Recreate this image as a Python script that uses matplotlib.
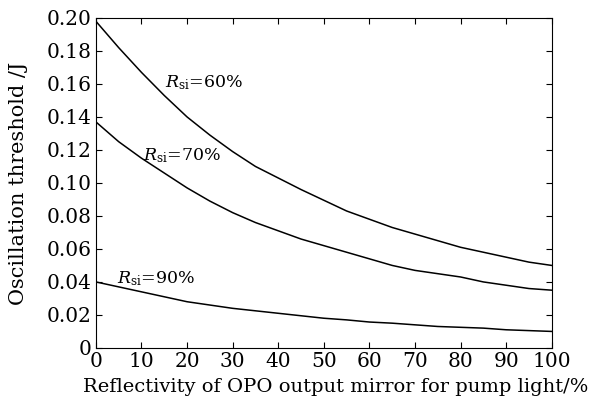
import matplotlib
matplotlib.use('Agg')
import matplotlib.pyplot as plt
import numpy as np

plt.rcParams['font.family'] = 'DejaVu Serif'
plt.rcParams['mathtext.fontset'] = 'dejavuserif'

# reflectivity of output mirror (%)
refl = [0, 5, 10, 15, 20, 25, 30, 35, 40, 45, 50, 55, 60, 65, 70, 75, 80, 85, 90, 95, 100]
# oscillation threshold (J) for each Rsi
th_60 = [0.198, 0.182, 0.167, 0.153, 0.140, 0.129, 0.119, 0.110, 0.103, 0.096, 0.0895,
         0.083, 0.078, 0.073, 0.069, 0.065, 0.061, 0.058, 0.055, 0.052, 0.050]
th_70 = [0.137, 0.125, 0.115, 0.106, 0.097, 0.089, 0.082, 0.076, 0.071, 0.066, 0.062,
         0.058, 0.054, 0.050, 0.047, 0.045, 0.043, 0.040, 0.038, 0.036, 0.035]
th_90 = [0.040, 0.037, 0.034, 0.031, 0.028, 0.026, 0.024, 0.0225, 0.021, 0.0195, 0.018,
         0.017, 0.0157, 0.015, 0.014, 0.013, 0.0125, 0.012, 0.011, 0.0105, 0.010]

fig = plt.figure(figsize=(5.92, 3.99), dpi=100)
ax = fig.add_axes([0.162, 0.128, 0.770, 0.827])

for y in (th_60, th_70, th_90):
    ax.plot(refl, y, color='black', lw=1.1)

ax.text(15.1, 0.158, r'$R_{\rm si}$=60%', fontsize=12.5)
ax.text(10.3, 0.114, r'$R_{\rm si}$=70%', fontsize=12.5)
ax.text(4.6, 0.039, r'$R_{\rm si}$=90%', fontsize=12.5)

ax.set_xlim(0, 100)
ax.set_ylim(0, 0.20)
ax.set_xticks(np.arange(0, 101, 10))
ax.set_yticks(np.arange(0, 0.201, 0.02))
ax.set_yticklabels(['0'] + ['%.2f' % v for v in np.arange(0.02, 0.201, 0.02)])
ax.tick_params(direction='in', top=True, right=True, labelsize=14.5, length=4, width=0.8, pad=3)
for s in ax.spines.values():
    s.set_linewidth(0.8)

ax.set_xlabel('Reflectivity of OPO output mirror for pump light/%', fontsize=14)
ax.set_ylabel('Oscillation threshold /J', fontsize=15)
ax.xaxis.set_label_coords(0.525, -0.09)
ax.yaxis.set_label_coords(-0.15, 0.5)

fig.savefig('out.png', dpi=100)
